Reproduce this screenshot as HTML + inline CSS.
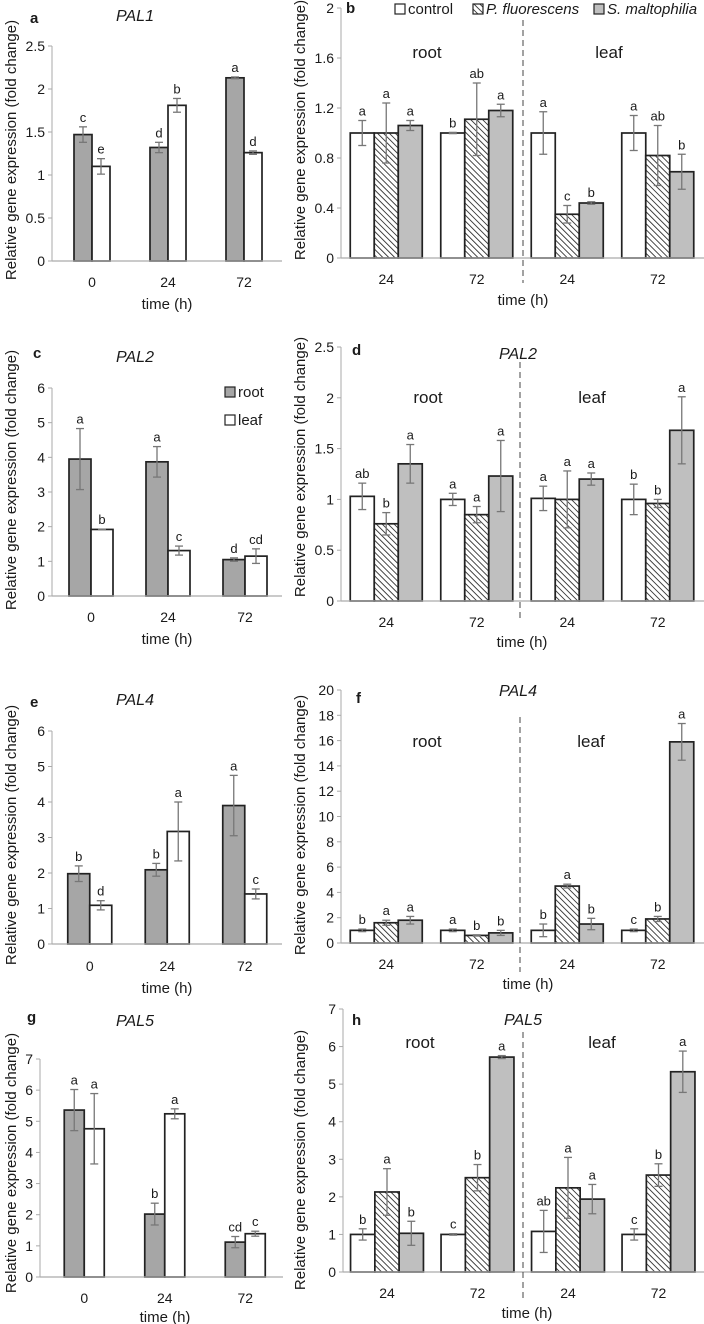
<!DOCTYPE html>
<html><head><meta charset="utf-8">
<style>
body{margin:0;background:#fff}
svg{display:block;font-family:"Liberation Sans",sans-serif}
</style></head>
<body>
<svg id="fig" width="704" height="1324" viewBox="0 0 704 1324" xmlns="http://www.w3.org/2000/svg">
<defs>
<pattern id="hatch" patternUnits="userSpaceOnUse" width="4.2" height="4.2" patternTransform="rotate(-45)">
<rect width="4.2" height="4.2" fill="#fff"/>
<line x1="0" y1="0" x2="0" y2="4.2" stroke="#333" stroke-width="1.8"/>
</pattern>
</defs>
</svg>
<script>
// ---- data ----
const timeCats=["0","24","72"];
const treatCats=["24","72","24","72"];
const aRoot=[1.47,1.32,2.13], aRootErr=[0.09,0.06,0.01], aRootLet=["c","d","a"];
const aLeaf=[1.10,1.81,1.26], aLeafErr=[0.09,0.08,0.02], aLeafLet=["e","b","d"];
const bCtrl=[1.0,1.0,1.0,1.0], bCtrlErr=[0.1,0.005,0.17,0.14], bCtrlLet=["a","b","a","a"];
const bPf=[1.0,1.11,0.35,0.82], bPfErr=[0.24,0.29,0.07,0.24], bPfLet=["a","ab","c","ab"];
const bSm=[1.06,1.18,0.44,0.69], bSmErr=[0.04,0.05,0.01,0.14], bSmLet=["a","a","b","b"];
const cRoot=[3.95,3.87,1.05], cRootErr=[0.88,0.44,0.05], cRootLet=["a","a","d"];
const cLeaf=[1.92,1.31,1.15], cLeafErr=[0.01,0.13,0.21], cLeafLet=["b","c","cd"];
const dCtrl=[1.03,1.0,1.01,1.0], dCtrlErr=[0.13,0.06,0.12,0.15], dCtrlLet=["ab","a","a","b"];
const dPf=[0.76,0.85,1.0,0.96], dPfErr=[0.11,0.08,0.28,0.04], dPfLet=["b","a","a","b"];
const dSm=[1.35,1.23,1.2,1.68], dSmErr=[0.19,0.35,0.06,0.33], dSmLet=["a","a","a","a"];
const eRoot=[1.98,2.09,3.9], eRootErr=[0.22,0.18,0.85], eRootLet=["b","b","a"];
const eLeaf=[1.09,3.17,1.41], eLeafErr=[0.13,0.83,0.14], eLeafLet=["d","a","c"];
const fCtrl=[1.0,1.0,1.0,1.0], fCtrlErr=[0.1,0.1,0.5,0.1], fCtrlLet=["b","a","b","c"];
const fPf=[1.6,0.6,4.5,1.9], fPfErr=[0.2,0.05,0.15,0.2], fPfLet=["a","b","a","b"];
const fSm=[1.8,0.8,1.5,15.9], fSmErr=[0.3,0.2,0.45,1.45], fSmLet=["a","b","b","a"];
const gRoot=[5.36,2.02,1.12], gRootErr=[0.66,0.35,0.18], gRootLet=["a","b","cd"];
const gLeaf=[4.76,5.24,1.39], gLeafErr=[1.13,0.16,0.08], gLeafLet=["a","a","c"];
const hCtrl=[1.0,1.0,1.08,1.0], hCtrlErr=[0.15,0.02,0.56,0.15], hCtrlLet=["b","c","ab","c"];
const hPf=[2.13,2.51,2.24,2.58], hPfErr=[0.62,0.35,0.81,0.3], hPfLet=["a","b","a","b"];
const hSm=[1.03,5.72,1.94,5.33], hSmErr=[0.32,0.04,0.39,0.55], hSmLet=["b","a","a","a"];
const ticksA=["0","0.5","1","1.5","2","2.5"];
const ticksB=["0","0.4","0.8","1.2","1.6","2"];
const ticksC=["0","1","2","3","4","5","6"];
const ticksD=["0","0.5","1","1.5","2","2.5"];
const ticksE=["0","1","2","3","4","5","6"];
const ticksF=["0","2","4","6","8","10","12","14","16","18","20"];
const ticksG=["0","1","2","3","4","5","6","7"];
const ticksH=["0","1","2","3","4","5","6","7"];

const svg=document.getElementById('fig');
const NS="http://www.w3.org/2000/svg";
function mk(tag,attrs,parent){const e=document.createElementNS(NS,tag);for(const k in attrs)e.setAttribute(k,attrs[k]);(parent||svg).appendChild(e);return e;}
function txt(s,x,y,size,anchor,parent,extra){const t=mk('text',Object.assign({x:x,y:y,'font-size':size,'text-anchor':anchor||'middle',fill:'#1a1a1a'},extra||{}),parent);t.textContent=s;return t;}

function panel(p){
  const g=mk('g',{});
  
  
  const max=parseFloat(p.ticks[p.ticks.length-1]);
  const y=v=>p.y0-(v/max)*(p.y0-p.yTop);
  const cx=i=>p.x0+(i+0.5)*p.step;
  const ax=mk('line',{x1:p.ax,y1:p.yTop,x2:p.ax,y2:p.y0,stroke:'#aaa','stroke-width':1},g);
  
  
  p.ticks.forEach(tk=>{
    const v=parseFloat(tk),yy=y(v);
    mk('line',{x1:p.ax-4,y1:yy,x2:p.ax,y2:yy,stroke:'#aaa'},g);
    const t=txt(tk,p.ax-7,yy+5,14,'end',g);
    
    
  });
  const n=p.series.length;
  p.cats.forEach((c,i)=>{
    const t=txt(c,cx(i),p.tickY,14,'middle',g);
    
    
    p.series.forEach((s,j)=>{
      const left=cx(i)-n*p.bw/2+j*p.bw;
      const v=s.vals[i],e=s.err[i];
      const r=mk('rect',{x:left,y:y(v),width:p.bw,height:p.y0-y(v),fill:s.fill,stroke:'#222','stroke-width':1.7},g);
      
      
      const m=left+p.bw/2,y1=y(v+e),y2=y(Math.max(0,v-e));
      mk('line',{x1:m,y1:y1,x2:m,y2:y2,stroke:'#777','stroke-width':1.3},g);
      mk('line',{x1:m-4,y1:y1,x2:m+4,y2:y1,stroke:'#777','stroke-width':1.3},g);
      mk('line',{x1:m-4,y1:y2,x2:m+4,y2:y2,stroke:'#777','stroke-width':1.3},g);
      const lt=txt(s.let[i],m,y1-5,13,'middle',g);
      
      
    });
  });
  const xa=mk('line',{x1:p.ax,y1:p.y0,x2:p.xEnd,y2:p.y0,stroke:'#aaa','stroke-width':1.2},g);
  
  
  const xl=txt('time (h)',p.xlX,p.xlY,15,'middle',g);
  
  
  const yl=txt('Relative gene expression (fold change)',0,0,15,'middle',g,{transform:'translate('+p.ylX+','+p.ylY+') rotate(-90)'});
  
  
  const pl=txt(p.id,p.lblX,p.lblY,15,'start',g,{'font-weight':'bold'});
  
  
  const tt=txt(p.title,p.tX,p.tY,16,'middle',g,{'font-style':'italic'});
  
  
  if(p.dash){
    const d=mk('line',{x1:p.dashX,y1:p.dashTop,x2:p.dashX,y2:p.dashBot,stroke:'#444','stroke-width':1,'stroke-dasharray':'6,4'},g);
    
    
    const r=txt('root',p.rootX,p.tissueY,17,'middle',g);
    
    
    const l=txt('leaf',p.leafX,p.tissueY,17,'middle',g);
    
    
  }
}
const GL='#a6a6a6',GR='#bfbfbf';
function leftSeries(r,re,rl,l,le,ll){return [{name:'root',vals:r,err:re,let:rl,fill:GL},{name:'leaf',vals:l,err:le,let:ll,fill:'#fff'}];}
function rightSeries(c,ce,cl,f,fe,fl,s,se,sl){return [{name:'control',vals:c,err:ce,let:cl,fill:'#fff'},{name:'pf',vals:f,err:fe,let:fl,fill:'url(#hatch)'},{name:'sm',vals:s,err:se,let:sl,fill:GR}];}

panel({id:'a',title:'PAL1',ticks:ticksA,cats:timeCats,series:leftSeries(aRoot,aRootErr,aRootLet,aLeaf,aLeafErr,aLeafLet),
  ax:52,yTop:46,y0:261,xEnd:282,x0:54,step:76,bw:18,tickY:287,xlX:167,xlY:309,ylX:16,ylY:150,lblX:30,lblY:23,tX:135,tY:21});
panel({id:'b',title:'',ticks:ticksB,cats:treatCats,series:rightSeries(bCtrl,bCtrlErr,bCtrlLet,bPf,bPfErr,bPfLet,bSm,bSmErr,bSmLet),
  ax:341,yTop:8,y0:258,xEnd:704,x0:341,step:90.5,bw:24,tickY:284,xlX:523,xlY:305,ylX:305,ylY:130,lblX:346,lblY:13,tX:0,tY:0,
  dash:true,dashX:523,dashTop:20,dashBot:283,rootX:427,leafX:609,tissueY:58});
panel({id:'c',title:'PAL2',ticks:ticksC,cats:timeCats,series:leftSeries(cRoot,cRootErr,cRootLet,cLeaf,cLeafErr,cLeafLet),
  ax:52,yTop:388,y0:596,xEnd:282,x0:52.5,step:77,bw:22,tickY:622,xlX:167,xlY:644,ylX:16,ylY:480,lblX:33,lblY:358,tX:135,tY:362});
panel({id:'d',title:'PAL2',ticks:ticksD,cats:treatCats,series:rightSeries(dCtrl,dCtrlErr,dCtrlLet,dPf,dPfErr,dPfLet,dSm,dSmErr,dSmLet),
  ax:341,yTop:347,y0:601,xEnd:704,x0:341,step:90.5,bw:24,tickY:627,xlX:522,xlY:647,ylX:305,ylY:467,lblX:352,lblY:355,tX:518,tY:359,
  dash:true,dashX:520,dashTop:362,dashBot:622,rootX:428,leafX:592,tissueY:403});
panel({id:'e',title:'PAL4',ticks:ticksE,cats:timeCats,series:leftSeries(eRoot,eRootErr,eRootLet,eLeaf,eLeafErr,eLeafLet),
  ax:52,yTop:731,y0:944,xEnd:282,x0:51,step:77.5,bw:22,tickY:971,xlX:167,xlY:993,ylX:16,ylY:835,lblX:30,lblY:707,tX:135,tY:705});
panel({id:'f',title:'PAL4',ticks:ticksF,cats:treatCats,series:rightSeries(fCtrl,fCtrlErr,fCtrlLet,fPf,fPfErr,fPfLet,fSm,fSmErr,fSmLet),
  ax:341,yTop:690,y0:943,xEnd:704,x0:341,step:90.5,bw:24,tickY:969,xlX:528,xlY:989,ylX:305,ylY:825,lblX:356,lblY:703,tX:518,tY:696,
  dash:true,dashX:520,dashTop:717,dashBot:972,rootX:427,leafX:591,tissueY:747});
panel({id:'g',title:'PAL5',ticks:ticksG,cats:timeCats,series:leftSeries(gRoot,gRootErr,gRootLet,gLeaf,gLeafErr,gLeafLet),
  ax:40,yTop:1059,y0:1277,xEnd:283,x0:44,step:80.5,bw:20,tickY:1303,xlX:165,xlY:1322,ylX:16,ylY:1163,lblX:27,lblY:1022,tX:135,tY:1026});
panel({id:'h',title:'PAL5',ticks:ticksH,cats:treatCats,series:rightSeries(hCtrl,hCtrlErr,hCtrlLet,hPf,hPfErr,hPfLet,hSm,hSmErr,hSmLet),
  ax:343,yTop:1009,y0:1272,xEnd:704,x0:341.75,step:90.5,bw:24.3,tickY:1298,xlX:527,xlY:1318,ylX:305,ylY:1160,lblX:352,lblY:1025,tX:523,tY:1025,
  dash:true,dashX:523,dashTop:1032,dashBot:1300,rootX:420,leafX:602,tissueY:1048});

const lg=mk('g',{});


[[395,'#fff','control',408,'normal'],[473,'url(#hatch)','P. fluorescens',486,'italic'],[594,GR,'S. maltophilia',607,'italic']].forEach(a=>{
  mk('rect',{x:a[0],y:4,width:10,height:10,fill:a[1],stroke:'#222','stroke-width':1.2},lg);
  const t=txt(a[2],a[3],14,15,'start',lg,{'font-style':a[4]});
  
  
});
const lg2=mk('g',{});


[[392,GL,'root'],[420,'#fff','leaf']].forEach(a=>{
  mk('rect',{x:225,y:a[0]-5,width:10,height:10,fill:a[1],stroke:'#222','stroke-width':1.2},lg2);
  const t=txt(a[2],238,a[0]+5,15,'start',lg2);
  
  
});
</script>
</body></html>
